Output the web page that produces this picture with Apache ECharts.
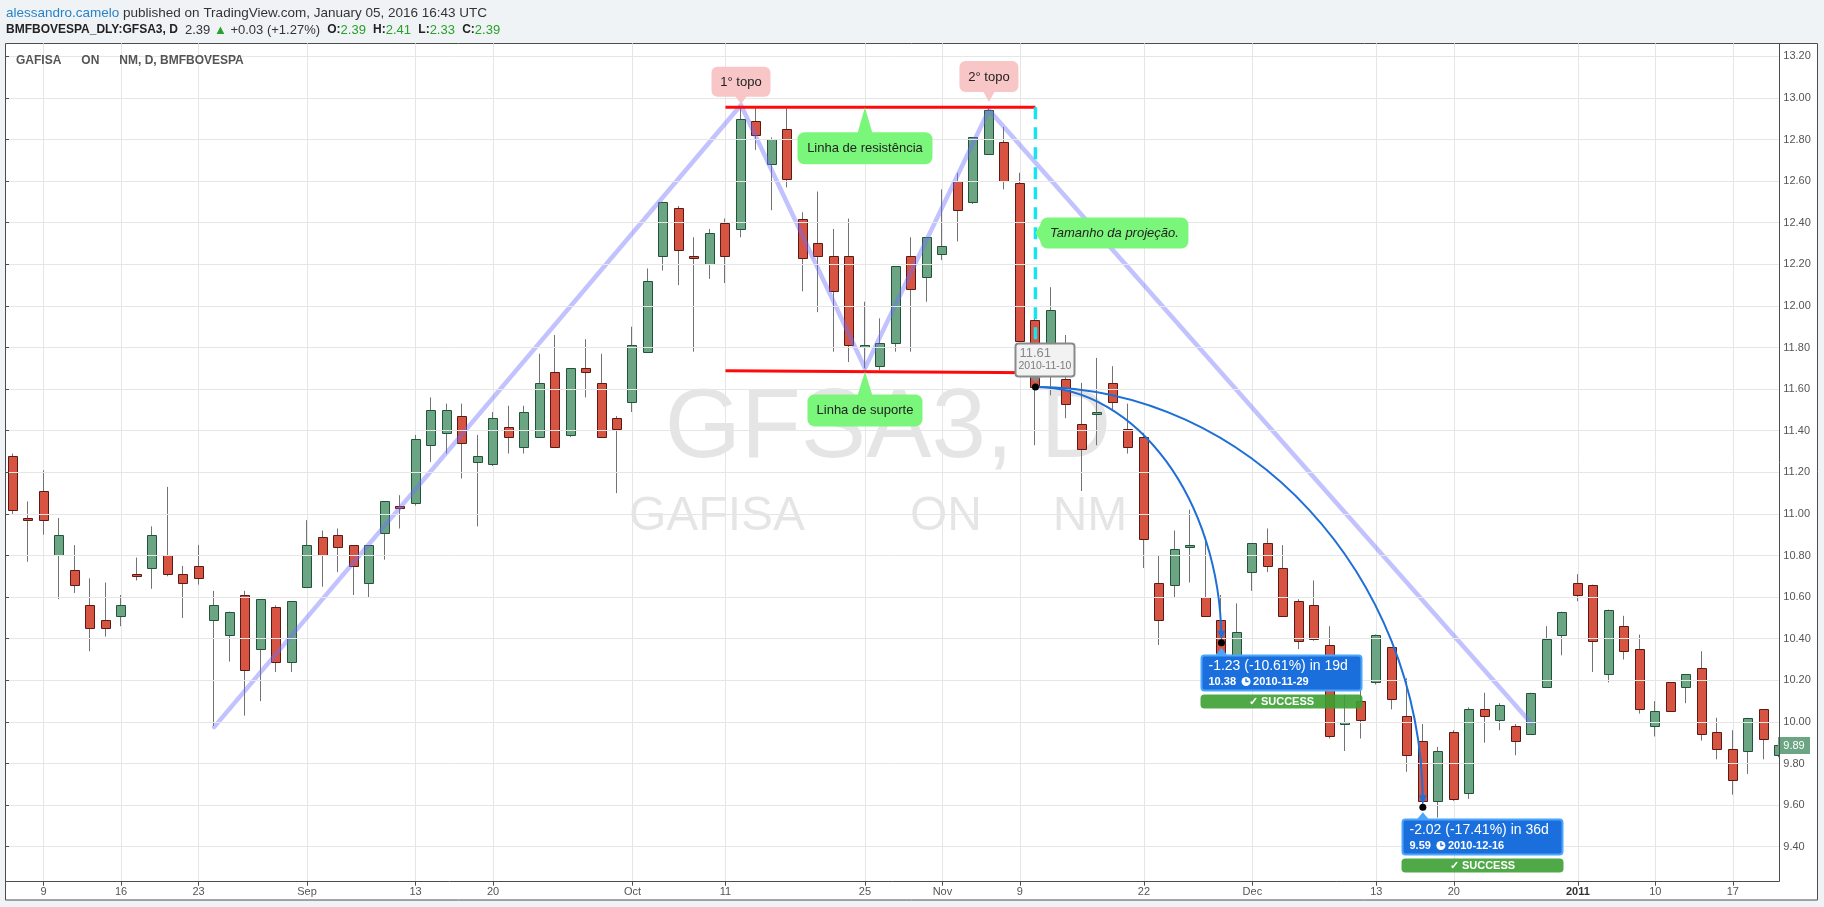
<!DOCTYPE html>
<html><head><meta charset="utf-8">
<script src="https://cdn.jsdelivr.net/npm/echarts@6/dist/echarts.min.js"></script>
<style>html,body{margin:0;padding:0;background:#f0f3f6;}#c{width:1824px;height:907px;}</style>
</head><body><div id="c"></div>
<script>
// ---------------- DATA ----------------
const dates = [
'2010-08-05','2010-08-06','2010-08-09','2010-08-10','2010-08-11','2010-08-12','2010-08-13','2010-08-16','2010-08-17','2010-08-18',
'2010-08-19','2010-08-20','2010-08-23','2010-08-24','2010-08-25','2010-08-26','2010-08-27','2010-08-30','2010-08-31','2010-09-01',
'2010-09-02','2010-09-03','2010-09-06','2010-09-08','2010-09-09','2010-09-10','2010-09-13','2010-09-14','2010-09-15','2010-09-16',
'2010-09-17','2010-09-20','2010-09-21','2010-09-22','2010-09-23','2010-09-24','2010-09-27','2010-09-28','2010-09-29','2010-09-30',
'2010-10-01','2010-10-04','2010-10-05','2010-10-06','2010-10-07','2010-10-08','2010-10-11','2010-10-13','2010-10-14','2010-10-15',
'2010-10-18','2010-10-19','2010-10-20','2010-10-21','2010-10-22','2010-10-25','2010-10-26','2010-10-27','2010-10-28','2010-10-29',
'2010-11-01','2010-11-03','2010-11-04','2010-11-05','2010-11-08','2010-11-09','2010-11-10','2010-11-11','2010-11-12','2010-11-16',
'2010-11-17','2010-11-18','2010-11-19','2010-11-22','2010-11-23','2010-11-24','2010-11-25','2010-11-26','2010-11-29','2010-11-30',
'2010-12-01','2010-12-02','2010-12-03','2010-12-06','2010-12-07','2010-12-08','2010-12-09','2010-12-10','2010-12-13','2010-12-14',
'2010-12-15','2010-12-16','2010-12-17','2010-12-20','2010-12-21','2010-12-22','2010-12-23','2010-12-27','2010-12-28','2010-12-29',
'2010-12-30','2011-01-03','2011-01-04','2011-01-05','2011-01-06','2011-01-07','2011-01-10','2011-01-11','2011-01-12','2011-01-13',
'2011-01-14','2011-01-17','2011-01-18','2011-01-19','2011-01-20'];

const opens = [11.28,10.98,11.11,10.80,10.73,10.56,10.49,10.51,10.71,10.74, 10.80,10.71,10.75,10.49,10.42,10.61,10.35,10.55,10.29,10.65,
10.89,10.90,10.85,10.67,10.91,11.04,11.05,11.33,11.39,11.47, 11.25,11.24,11.42,11.32,11.37,11.68,11.38,11.70,11.63,11.46,
11.54,11.78,12.24,12.47,12.24,12.20,12.40,12.37,12.89,12.68, 12.85,12.42,12.30,12.24,12.24,11.80,11.71,11.82,12.24,12.14,
12.25,12.60,12.50,12.73,12.79,12.59,11.93,11.70,11.65,11.43, 11.48,11.63,11.41,11.37,10.67,10.66,10.84,10.60,10.49,10.30,
10.72,10.86,10.74,10.58,10.56,10.37,9.99,10.10,10.19,10.36, 10.03,9.91,9.62,9.95,9.66,10.06,10.01,9.98,9.94,10.17,
10.42,10.67,10.66,10.23,10.46,10.35,9.98,10.19,10.17,10.26, 9.95,9.87,9.86,10.06,9.84];
const highs = [11.29,11.06,11.21,10.98,10.85,10.69,10.67,10.61,10.79,10.94, 11.13,10.75,10.85,10.63,10.53,10.63,10.59,10.56,10.58,10.97,
10.92,10.93,10.85,10.85,11.06,11.09,11.38,11.56,11.53,11.53, 11.38,11.49,11.52,11.52,11.77,11.86,11.70,11.84,11.77,11.47,
11.90,12.18,12.50,12.48,12.33,12.37,12.42,12.96,12.95,12.81, 12.95,12.45,12.55,12.37,12.42,12.02,11.94,12.19,12.33,12.33,
12.56,12.64,12.81,12.95,12.86,12.64,11.95,12.09,11.86,11.63, 11.75,11.71,11.53,11.39,10.80,10.92,11.02,10.89,10.61,10.57,
10.86,10.93,10.85,10.59,10.68,10.46,10.13,10.28,10.42,10.36, 10.21,9.99,9.88,9.96,10.07,10.14,10.09,9.99,10.14,10.46,
10.53,10.71,10.66,10.54,10.51,10.42,10.10,10.19,10.23,10.34, 10.02,9.96,10.02,10.06,9.90];
const lows = [11.00,10.77,10.90,10.59,10.62,10.34,10.41,10.46,10.68,10.64, 10.70,10.50,10.66,9.98,10.29,10.03,10.10,10.24,10.24,10.65,
10.65,10.72,10.61,10.60,10.78,10.93,11.04,11.25,11.29,11.17, 10.94,11.23,11.29,11.29,11.37,11.32,11.37,11.56,11.37,11.10,
11.49,11.78,12.17,12.10,11.78,12.13,12.11,12.33,12.75,12.46, 12.57,12.07,11.97,11.78,11.73,11.70,11.69,11.78,11.78,12.02,
12.22,12.31,12.49,12.73,12.56,11.83,11.33,11.57,11.46,11.11, 11.33,11.50,11.29,10.74,10.37,10.60,10.67,10.51,10.30,10.25,
10.63,10.72,10.51,10.35,10.39,9.92,9.86,9.92,10.18,10.06, 9.76,9.59,9.54,9.62,9.63,9.90,9.96,9.84,9.94,10.17,
10.32,10.58,10.24,10.19,10.30,10.04,9.93,10.05,10.09,9.91, 9.82,9.65,9.75,9.82,9.83];
const closes = [11.02,10.97,10.97,10.90,10.66,10.45,10.45,10.56,10.70,10.90, 10.71,10.67,10.69,10.56,10.53,10.25,10.59,10.29,10.58,10.85,
10.80,10.84,10.75,10.85,11.06,11.03,11.36,11.50,11.50,11.34, 11.28,11.46,11.37,11.49,11.63,11.32,11.70,11.68,11.37,11.41,
11.81,12.12,12.50,12.27,12.23,12.35,12.24,12.90,12.82,12.80, 12.61,12.23,12.24,12.07,11.81,11.81,11.82,12.19,12.08,12.33,
12.29,12.46,12.81,12.94,12.60,11.83,11.61,11.98,11.53,11.31, 11.49,11.54,11.32,10.88,10.49,10.83,10.85,10.51,10.33,10.43,
10.86,10.75,10.51,10.39,10.40,9.93,10.00,10.01,10.42,10.11, 9.84,9.62,9.86,9.63,10.06,10.03,10.08,9.91,10.14,10.40,
10.53,10.61,10.39,10.54,10.34,10.06,10.05,10.05,10.23,9.94, 9.87,9.72,10.02,9.92,9.89];

const tickDates  = ['2010-08-09','2010-08-16','2010-08-23','2010-09-01','2010-09-13','2010-09-20','2010-10-01','2010-10-11','2010-10-25',
                    '2010-11-01','2010-11-09','2010-11-22','2010-12-01','2010-12-13','2010-12-20','2011-01-03','2011-01-10','2011-01-17'];
const tickLabels = ['9','16','23','Sep','13','20','Oct','11','25','Nov','9','22','Dec','13','20','2011','10','17'];
const yearLabel = '2011';

const priceMin = 9.4, priceMax = 13.2, priceStep = 0.2;

const zigzag = [[13, 9.975], [47, 12.966], [55, 11.70], [63, 12.942], [98, 9.993]];
const resistance = [[46, 12.955], [66, 12.955]];
const support = [[46, 11.688], [66, 11.679]];
const projection = [[66, 12.955], [66, 11.685]];

const forecastSource = [66, 11.61];
const forecastSourceDate = '2010-11-10';
const forecastTargets = [[78, 10.38], [91, 9.59]];
const forecastTexts = [['-1.23 (-10.61%) in 19d', '10.38', '2010-11-29'], ['-2.02 (-17.41%) in 36d', '9.59', '2010-12-16']];
const forecastStatus = 'SUCCESS';

const noteTexts = ['1° topo', '2° topo', 'Linha de resistência', 'Linha de suporte', 'Tamanho da projeção.'];
const notePoints = [[47, 12.97], [63, 12.98], [55, 12.955], [55, 11.685], [66, 12.35]];

const lastPrice = [114, 9.89];

const headerUser = 'alessandro.camelo';
const headerRest = ' published on TradingView.com, January 05, 2016 16:43 UTC';
const symbolText = 'BMFBOVESPA_DLY:GFSA3, D';
const quote = {last: '2.39', chg: '+0.03 (+1.27%)', o: '2.39', h: '2.41', l: '2.33', c: '2.39'};
const legendText = 'GAFISA      ON      NM, D, BMFBOVESPA';
const watermarkBig = 'GFSA3, D';
const watermarkWords = ['GAFISA', 'ON', 'NM'];

// ---------------- LAYOUT / STYLE ----------------
const FONT = '"Liberation Sans", Arial, Helvetica, sans-serif';
const W = 1824, H = 907;
const plotL = 6, plotR = 1779.3, plotT = 43.3, plotB = 881.7;
const firstX = 12.6;
const PX = 208;            // pixels per price unit
const Y_TOP_TICK = 56.3;   // pixel of priceMax tick
const yBmax = priceMax + (Y_TOP_TICK - plotT) / PX;
const yBmin = priceMax - (plotB - Y_TOP_TICK) / PX;
const gridC_height = (priceMax - priceMin) * PX;

const upFill = '#6ba583', upLine = '#225437', downFill = '#d75442', downLine = '#5b1a13', wickColor = '#737373';
const gridColor = '#e6e6e6', axisColor = '#4d4d4d', labelColor = '#555';
const curveColor = '#1e6fd6';
const green = '#7af77a', pink = '#f8c6c6';

const noteLayout = [
  {side: 'top', w: 59, h: 30, gap: 7.5, half: 6, r: 6, fill: pink, font: '13px ' + FONT},
  {side: 'top', w: 59, h: 31, gap: 10, half: 6, r: 6, fill: pink, font: '13px ' + FONT},
  {side: 'bottom', w: 135, h: 32, gap: 25, half: 7.5, r: 7, fill: green, font: '13px ' + FONT},
  {side: 'bottom', w: 115, h: 32, gap: 23, half: 7.5, r: 7, fill: green, font: '13px ' + FONT},
  {side: 'right', w: 148, h: 31, gap: 5, half: 10, r: 7, fill: green, font: 'italic 13px ' + FONT}
];
const fcLayout = {dx: -20.7, dy: 11.7, w: 160, h: 35, fill: '#1a6fdc', stroke: '#4aa5ff', ok: 'rgba(60,160,50,0.9)'};

const mctx = document.createElement('canvas').getContext('2d');
function textW(t, f) { mctx.font = f; return mctx.measureText(t).width; }
function txt(o) {
  o.align = o.align || 'left'; o.verticalAlign = o.verticalAlign || 'middle';
  o.textAlign = o.align; o.textVerticalAlign = o.verticalAlign;
  return o;
}

// ---------------- RENDERERS ----------------
function renderCandle(params, api) {
  const i = api.value(0);
  const o = api.value(1), c = api.value(2), l = api.value(3), h = api.value(4);
  const pO = api.coord([i, o]), pC = api.coord([i, c]), pH = api.coord([i, h]), pL = api.coord([i, l]);
  const cx = Math.round(pO[0]);
  const clipR = params.coordSys.x + params.coordSys.width;
  const up = c >= o;
  let t = Math.round(Math.min(pO[1], pC[1])) + 0.5, b = Math.round(Math.max(pO[1], pC[1])) + 0.5;
  if (b - t < 1) b = t + 1;
  let x0 = cx - 4.5, w = 9;
  if (x0 + w > clipR) w = clipR - x0;
  const ch = [{type: 'line', shape: {x1: cx - 0.5, y1: pH[1], x2: cx - 0.5, y2: pL[1]}, style: {stroke: wickColor, lineWidth: 1}}];
  if (w > 0) ch.push({type: 'rect', shape: {x: x0, y: t, width: w, height: b - t},
    style: {fill: up ? upFill : downFill, stroke: up ? upLine : downLine, lineWidth: 1}});
  return {type: 'group', children: ch};
}

function renderNote(params, api) {
  const k = params.dataIndex, L = noteLayout[k];
  const p = api.coord([api.value(0), api.value(1)]);
  const ax = p[0], ay = p[1];
  let bx, by, tri;
  if (L.side === 'top') { bx = ax - L.w / 2; by = ay - L.gap - L.h; tri = [[ax - L.half, by + L.h - 1], [ax + L.half, by + L.h - 1], [ax, ay]]; }
  else if (L.side === 'bottom') { bx = ax - L.w / 2; by = ay + L.gap; tri = [[ax - L.half, by + 1], [ax + L.half, by + 1], [ax, ay]]; }
  else { bx = ax + L.gap; by = ay - L.h / 2; tri = [[bx + 1, ay - L.half], [bx + 1, ay + L.half], [ax, ay]]; }
  return {type: 'group', children: [
    {type: 'polygon', shape: {points: tri}, style: {fill: L.fill}},
    {type: 'rect', shape: {x: bx, y: by, width: L.w, height: L.h, r: L.r}, style: {fill: L.fill}},
    {type: 'text', style: txt({text: noteTexts[k], x: bx + L.w / 2, y: by + L.h / 2 + 0.5, fill: '#222', font: L.font, align: 'center'})}
  ]};
}

function renderCurve(params, api) {
  const s = api.coord([api.value(0), api.value(1)]);
  const t = api.coord([api.value(2), api.value(3)]);
  const k = 0.5523, a = t[0] - s[0], b = t[1] - s[1];
  return {type: 'group', children: [
    {type: 'bezierCurve', shape: {x1: s[0], y1: s[1], cpx1: s[0] + k * a, cpy1: s[1], cpx2: t[0] - 2, cpy2: t[1] - k * b, x2: t[0], y2: t[1] - 6},
      style: {stroke: curveColor, lineWidth: 2, fill: null}},
    {type: 'polygon', shape: {points: [[t[0] - 4, t[1] - 12], [t[0] + 4, t[1] - 12], [t[0], t[1] - 3]]}, style: {fill: curveColor}},
    {type: 'circle', shape: {cx: t[0], cy: t[1], r: 3.5}, style: {fill: '#000'}}
  ]};
}

function renderFcLabel(params, api) {
  const k = params.dataIndex, L = fcLayout;
  const p = api.coord([api.value(0), api.value(1)]);
  const bx = Math.round(p[0] + L.dx) + 0.5, by = Math.round(p[1] + L.dy) + 0.5;
  const t = forecastTexts[k];
  const f2 = 'bold 11px ' + FONT;
  const cx = bx + 7 + textW(t[1], f2) + 10;
  const ly = by + 26;
  return {type: 'group', children: [
    {type: 'polygon', shape: {points: [[p[0] - 6, by], [p[0] + 6, by], [p[0], p[1] + 5]]}, style: {fill: L.stroke}},
    {type: 'rect', shape: {x: bx, y: by, width: L.w, height: L.h, r: 3}, style: {fill: L.fill, stroke: L.stroke, lineWidth: 2}},
    {type: 'text', style: txt({text: t[0], x: bx + 7, y: by + 11, fill: '#fff', font: '14px ' + FONT})},
    {type: 'text', style: txt({text: t[1], x: bx + 7, y: ly, fill: '#fff', font: f2})},
    {type: 'circle', shape: {cx: cx, cy: ly, r: 4.5}, style: {fill: '#fff'}},
    {type: 'polyline', shape: {points: [[cx, ly - 3], [cx, ly], [cx + 2.5, ly]]}, style: {stroke: L.fill, lineWidth: 1.3, fill: null}},
    {type: 'text', style: txt({text: t[2], x: cx + 7, y: ly, fill: '#fff', font: f2})},
    {type: 'rect', shape: {x: bx - 1, y: by + L.h + 4, width: L.w + 2, height: 14, r: 4}, style: {fill: L.ok}},
    {type: 'text', style: txt({text: '\u2713 ' + forecastStatus, x: bx + L.w / 2, y: by + L.h + 11.5, fill: '#fff', font: 'bold 11px ' + FONT, align: 'center'})}
  ]};
}

function renderSource(params, api) {
  const p = api.coord([api.value(0), api.value(1)]);
  const bx = Math.round(p[0] - 20.4) + 0.5, by = Math.round(p[1] - 43.7) + 0.5, w = 59, h = 33;
  return {type: 'group', children: [
    {type: 'polygon', shape: {points: [[p[0] - 6, by + h], [p[0] + 6, by + h], [p[0], p[1] - 4.5]]}, style: {fill: '#8a8a8a'}},
    {type: 'rect', shape: {x: bx, y: by, width: w, height: h, r: 3}, style: {fill: '#f2f2f2', stroke: '#8a8a8a', lineWidth: 2}},
    {type: 'text', style: txt({text: api.value(1).toFixed(2), x: bx + 4, y: by + 9.5, fill: '#8a8a8a', font: '13px ' + FONT})},
    {type: 'text', style: txt({text: forecastSourceDate, x: bx + 3, y: by + 22.5, fill: '#7a7a7a', font: '10.5px ' + FONT})},
    {type: 'circle', shape: {cx: p[0], cy: p[1], r: 3.5}, style: {fill: '#000'}}
  ]};
}

function renderLast(params, api) {
  const p = api.coord([api.value(0), api.value(1)]);
  const x = Math.round(p[0]) - 1, y = Math.round(p[1]) - 8;
  return {type: 'group', children: [
    {type: 'rect', shape: {x: x, y: y, width: 32, height: 17}, style: {fill: upFill}},
    {type: 'text', style: txt({text: api.value(1).toFixed(2), x: x + 16, y: y + 8.5, fill: '#fff', font: '11px ' + FONT, align: 'center'})}
  ]};
}

// ---------------- OPTION ----------------
const tickSet = new Set(tickDates);
const candleData = dates.map((d, i) => [i, opens[i], closes[i], lows[i], highs[i]]);

const option = {
  animation: false,
  backgroundColor: '#f0f3f6',
  textStyle: {fontFamily: FONT},
  grid: [
    {left: firstX, right: W - plotR, top: plotT, bottom: H - plotB},
    {left: plotL, right: W - plotR, top: Y_TOP_TICK, height: gridC_height}
  ],
  xAxis: [
    {type: 'category', gridIndex: 0, data: dates, boundaryGap: false,
      axisLine: {show: false},
      axisTick: {show: true, length: 4, interval: (i, v) => tickSet.has(v), lineStyle: {color: axisColor}},
      axisLabel: {interval: (i, v) => tickSet.has(v), margin: 5, fontSize: 11, color: labelColor,
        formatter: v => { const s = tickLabels[tickDates.indexOf(v)]; return s === yearLabel ? '{y|' + s + '}' : s; },
        rich: {y: {fontWeight: 'bold', color: '#333', fontSize: 11}}},
      splitLine: {show: true, interval: (i, v) => tickSet.has(v), lineStyle: {color: gridColor, width: 1}}},
    {type: 'value', gridIndex: 1, show: false, min: 0, max: 1}
  ],
  yAxis: [
    {type: 'value', gridIndex: 0, show: false, min: yBmin, max: yBmax, splitLine: {show: false}},
    {type: 'value', gridIndex: 1, position: 'right', min: priceMin, max: priceMax, interval: priceStep, z: 4,
      axisLine: {show: false},
      axisTick: {show: true, length: 3, lineStyle: {color: axisColor}},
      axisLabel: {margin: 4, fontSize: 11, color: labelColor, formatter: v => v.toFixed(2)},
      splitLine: {show: true, lineStyle: {color: gridColor, width: 1}}}
  ],
  series: [
    {type: 'custom', name: 'candles', xAxisIndex: 0, yAxisIndex: 0, z: 2, renderItem: renderCandle,
      encode: {x: 0, y: [1, 2, 3, 4]}, data: candleData, silent: true},
    {type: 'line', xAxisIndex: 0, yAxisIndex: 0, z: 3, data: zigzag, symbol: 'none', silent: true,
      lineStyle: {color: 'rgba(110,110,255,0.42)', width: 4.5, cap: 'round', join: 'round'}},
    {type: 'line', xAxisIndex: 0, yAxisIndex: 0, z: 3, data: resistance, symbol: 'none', silent: true,
      lineStyle: {color: '#ff0a0a', width: 3}},
    {type: 'line', xAxisIndex: 0, yAxisIndex: 0, z: 3, data: support, symbol: 'none', silent: true,
      lineStyle: {color: '#ff0a0a', width: 3}},
    {type: 'line', xAxisIndex: 0, yAxisIndex: 0, z: 3, data: projection, symbol: 'none', silent: true,
      lineStyle: {color: '#17e4f2', width: 3.5, type: [12, 8]}},
    {type: 'custom', xAxisIndex: 0, yAxisIndex: 0, z: 4, renderItem: renderCurve, silent: true,
      encode: {x: [0, 2], y: [1, 3]}, data: forecastTargets.map(t => [forecastSource[0], forecastSource[1], t[0], t[1]])},
    {type: 'custom', xAxisIndex: 0, yAxisIndex: 0, z: 5, renderItem: renderNote, silent: true,
      encode: {x: 0, y: 1}, data: notePoints},
    {type: 'custom', xAxisIndex: 0, yAxisIndex: 0, z: 6, renderItem: renderSource, silent: true,
      encode: {x: 0, y: 1}, data: [forecastSource]},
    {type: 'custom', xAxisIndex: 0, yAxisIndex: 0, z: 6, renderItem: renderFcLabel, silent: true,
      encode: {x: 0, y: 1}, data: forecastTargets},
    {type: 'custom', xAxisIndex: 0, yAxisIndex: 0, z: 7, renderItem: renderLast, silent: true,
      encode: {x: 0, y: 1}, data: [lastPrice]}
  ],
  graphic: {elements: [
    {type: 'rect', z: -10, silent: true, shape: {x: 5.5, y: 43.5, width: 1812, height: 856.5}, style: {fill: '#fff', stroke: axisColor, lineWidth: 1}},
    {type: 'text', z: -5, silent: true, style: txt({text: watermarkBig, x: 888, y: 430, fill: 'rgba(0,0,0,0.1)', font: '98px ' + FONT, align: 'center'})},
    {type: 'text', z: -5, silent: true, style: txt({text: watermarkWords[0], x: 717, y: 517, fill: 'rgba(0,0,0,0.1)', font: '48px ' + FONT, align: 'center'})},
    {type: 'text', z: -5, silent: true, style: txt({text: watermarkWords[1], x: 946, y: 517, fill: 'rgba(0,0,0,0.1)', font: '48px ' + FONT, align: 'center'})},
    {type: 'text', z: -5, silent: true, style: txt({text: watermarkWords[2], x: 1090, y: 517, fill: 'rgba(0,0,0,0.1)', font: '48px ' + FONT, align: 'center'})},
    {type: 'text', z: 10, silent: true, style: txt({text: legendText, x: 16, y: 61, fill: '#555', font: 'bold 12px ' + FONT})},
    {type: 'line', z: 10, silent: true, shape: {x1: plotL, y1: 881.5, x2: 1779.5, y2: 881.5}, style: {stroke: axisColor, lineWidth: 1}},
    {type: 'line', z: 10, silent: true, shape: {x1: 1779.5, y1: 43.5, x2: 1779.5, y2: 881.5}, style: {stroke: axisColor, lineWidth: 1}},
    {type: 'text', z: 10, silent: true, style: txt({
      text: '{u|' + headerUser + '}{t|' + headerRest + '}', x: 6, y: 13,
      rich: {u: {fill: '#2a82c6', font: '13.5px ' + FONT}, t: {fill: '#333', font: '13.5px ' + FONT}}})},
    {type: 'text', z: 10, silent: true, style: txt({
      text: '{b|' + symbolText + '}{t|  ' + quote.last + ' }{g|\u25B2}{t| ' + quote.chg + '  }{b|O:}{g|' + quote.o + '}{t|  }{b|H:}{g|' + quote.h +
            '}{t|  }{b|L:}{g|' + quote.l + '}{t|  }{b|C:}{g|' + quote.c + '}',
      x: 6, y: 30,
      rich: {b: {fill: '#222', font: 'bold 12px ' + FONT}, t: {fill: '#333', font: '13px ' + FONT}, g: {fill: '#27a127', font: '13px ' + FONT}}})}
  ]}
};

const chart = echarts.init(document.getElementById('c'), null, {renderer: 'canvas', width: W, height: H});
chart.setOption(option);
</script>
</body></html>
